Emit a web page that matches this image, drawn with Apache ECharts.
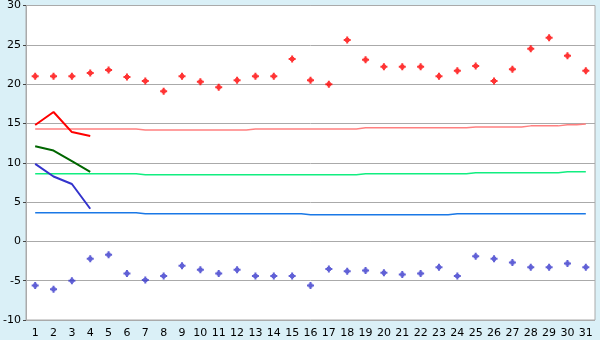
<!DOCTYPE html>
<html><head><meta charset="utf-8">
<script src="https://cdn.jsdelivr.net/npm/echarts@6/dist/echarts.min.js"></script>
<style>html,body{margin:0;padding:0;background:#daf0f7;}#c{width:600px;height:340px;}</style>
</head><body><div id="c"></div>
<script>
var days = [];
for (var d = 1; d <= 31; d++) days.push(String(d));
var maxPoints = [21.0,21.0,21.0,21.4,21.8,20.9,20.4,19.1,21.0,20.3,19.6,20.5,21.0,21.0,23.2,20.5,20.0,25.6,23.1,22.2,22.2,22.2,21.0,21.7,22.3,20.4,21.9,24.5,25.9,23.6,21.7];
var minPoints = [-5.6,-6.1,-5.0,-2.2,-1.7,-4.1,-4.9,-4.4,-3.1,-3.6,-4.1,-3.6,-4.4,-4.4,-4.4,-5.6,-3.5,-3.8,-3.7,-4.0,-4.2,-4.1,-3.3,-4.4,-1.9,-2.2,-2.7,-3.3,-3.3,-2.8,-3.3];
var maxLine = [14.8,16.45,13.9,13.4];
var meanLine = [12.1,11.55,10.2,8.85];
var minLine = [9.85,8.25,7.3,4.15];
var normMax = [14.3,14.3,14.3,14.3,14.3,14.3,14.18,14.18,14.18,14.18,14.18,14.18,14.3,14.3,14.3,14.3,14.3,14.3,14.44,14.44,14.44,14.44,14.44,14.44,14.56,14.56,14.56,14.69,14.69,14.82,14.94];
var normMean = [8.59,8.59,8.59,8.59,8.59,8.59,8.47,8.47,8.47,8.47,8.47,8.47,8.47,8.47,8.47,8.47,8.47,8.47,8.59,8.59,8.59,8.59,8.59,8.59,8.72,8.72,8.72,8.72,8.72,8.85,8.85];
var normMin = [3.64,3.64,3.64,3.64,3.64,3.64,3.51,3.51,3.51,3.51,3.51,3.51,3.51,3.51,3.51,3.39,3.39,3.39,3.39,3.39,3.39,3.39,3.39,3.51,3.51,3.51,3.51,3.51,3.51,3.51,3.51];
var yMin = -10, yMax = 30, yStep = 5;

var plus = 'path://M2.5,0 H4.5 V1.5 H5.5 V2.5 H7 V4.5 H5.5 V5.5 H4.5 V7 H2.5 V5.5 H1.5 V4.5 H0 V2.5 H1.5 V1.5 H2.5 Z';
var chart = echarts.init(document.getElementById('c'), null, {renderer: 'canvas'});
function stepLine(data, color, w) {
  return {type: 'line', data: data, step: 'middle', symbol: 'none', silent: true,
    lineStyle: {color: color, width: w}, z: 2};
}
function seg(data, color) {
  return {type: 'line', data: data, symbol: 'none', silent: true,
    lineStyle: {color: color, width: 2}, z: 3};
}
chart.setOption({
  animation: false,
  backgroundColor: '#daf0f7',
  grid: {left: 26, right: 5, top: 5, bottom: 20, show: true, backgroundColor: '#ffffff', borderColor: '#aaaaaa', borderWidth: 1},
  xAxis: {
    type: 'category', data: days, boundaryGap: true,
    axisLine: {lineStyle: {color: '#aaaaaa'}},
    axisTick: {alignWithLabel: true, length: 4, lineStyle: {color: '#444'}},
    axisLabel: {color: '#000', fontFamily: 'DejaVu Sans', fontSize: 11, margin: 8, interval: 0}
  },
  yAxis: {
    type: 'value', min: yMin, max: yMax, interval: yStep,
    axisLine: {show: true, lineStyle: {color: '#aaaaaa'}},
    axisTick: {show: true, length: 3, lineStyle: {color: '#444'}},
    axisLabel: {color: '#000', fontFamily: 'DejaVu Sans', fontSize: 11, margin: 5},
    splitLine: {lineStyle: {color: '#aaaaaa'}}
  },
  series: [
    stepLine(normMax, '#ff8080', 1.5),
    stepLine(normMean, '#11ee80', 1.5),
    stepLine(normMin, '#1a78e6', 1.5),
    seg(maxLine, '#ff0000'),
    seg(meanLine, '#006600'),
    seg(minLine, '#3333cc'),
    {type: 'scatter', data: maxPoints, symbol: plus, symbolSize: 7, itemStyle: {color: '#ff0000'}, z: 4},
    {type: 'scatter', data: minPoints, symbol: plus, symbolSize: 7, itemStyle: {color: '#3838cc'}, z: 4}
  ]
});
</script></body></html>
